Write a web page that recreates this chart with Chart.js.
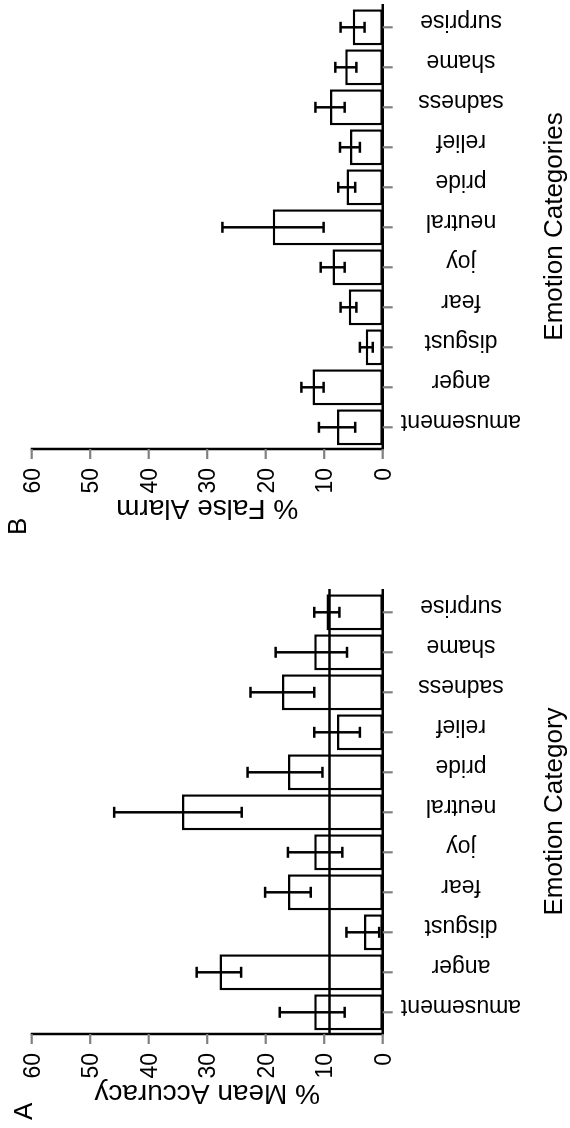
<!DOCTYPE html>
<html>
<head>
<meta charset="utf-8">
<script src="https://cdn.jsdelivr.net/npm/chart.js@4.4.1/dist/chart.umd.min.js"></script>
<style>
  html, body { margin: 0; padding: 0; background: #fff; }
  body { width: 570px; height: 1128px; position: relative; overflow: hidden; }
  #figure {
    position: absolute; left: 0; top: 0;
    width: 1128px; height: 570px;
    transform-origin: 0 0;
    transform: translateY(1128px) rotate(-90deg);
    background: #fff;
  }
  #figure canvas { position: absolute; top: 0; }
</style>
</head>
<body>
<div id="figure">
  <canvas id="chartA" width="585" height="570" style="left:0px"></canvas>
  <canvas id="chartB" width="543" height="570" style="left:585px"></canvas>
</div>
<script>
// ---- Data ----
const categories = ['amusement', 'anger', 'disgust', 'fear', 'joy', 'neutral', 'pride', 'relief', 'sadness', 'shame', 'surprise'];

const accuracyMean = [11.7, 27.9, 3.2, 16.2, 11.7, 34.3, 16.2, 7.8, 17.2, 11.7, 9.6];
const accuracyLow  = [6.5, 24.2, 0.6, 12.3, 6.9, 24.1, 10.3, 3.9, 11.7, 6.1, 7.4];
const accuracyHigh = [17.6, 31.8, 6.2, 20.1, 16.2, 45.9, 23.1, 11.7, 22.6, 18.3, 11.7];

const falseAlarmMean = [7.8, 12.0, 2.9, 5.8, 8.6, 18.8, 6.2, 5.6, 9.0, 6.4, 5.1];
const falseAlarmLow  = [4.7, 10.1, 1.7, 4.5, 6.5, 10.1, 4.7, 3.9, 6.5, 4.5, 3.1];
const falseAlarmHigh = [10.9, 13.9, 3.9, 7.2, 10.6, 27.4, 7.6, 7.3, 11.5, 8.1, 7.2];

const valueTicks = [0, 10, 20, 30, 40, 50, 60];
const chanceLevel = 100 / 11;

const FONT = "'Liberation Sans', Arial, Helvetica, sans-serif";
const LW = 2.5;

function line(ctx, x1, y1, x2, y2) {
  ctx.beginPath(); ctx.moveTo(x1, y1); ctx.lineTo(x2, y2); ctx.stroke();
}

const decorPlugin = {
  id: 'decor',
  afterDraw(chart, args, opts) {
    const ctx = chart.ctx;
    const xs = chart.scales.x, ys = chart.scales.y;
    const area = chart.chartArea;
    const axX = area.left - 1.7;
    const regionR = area.right + 3.3;
    const y0 = ys.getPixelForValue(0);
    ctx.save();
    ctx.lineWidth = LW;
    ctx.strokeStyle = '#000';
    ctx.lineCap = 'butt';
    // zero line across plot region
    line(ctx, axX, y0, regionR, y0);
    // chance line
    if (opts.chance != null) {
      const yc = ys.getPixelForValue(opts.chance);
      line(ctx, axX, yc, regionR, yc);
    }
    // error bars
    for (let i = 0; i < categories.length; i++) {
      const cx = xs.getPixelForValue(i);
      const yl = ys.getPixelForValue(opts.low[i]);
      const yh = ys.getPixelForValue(opts.high[i]);
      line(ctx, cx, yl, cx, yh);
      line(ctx, cx - 5.5, yl, cx + 5.5, yl);
      line(ctx, cx - 5.5, yh, cx + 5.5, yh);
    }
    // value axis
    line(ctx, axX, ys.getPixelForValue(0) + 1, axX, ys.getPixelForValue(60) - 1);
    // value ticks + labels
    ctx.strokeStyle = '#808080';
    ctx.lineWidth = 2.2;
    ctx.fillStyle = '#000';
    ctx.font = '23px ' + FONT;
    ctx.textAlign = 'right';
    ctx.textBaseline = 'alphabetic';
    valueTicks.forEach(v => {
      const y = ys.getPixelForValue(v);
      line(ctx, axX - 10, y, axX, y);
      ctx.fillText(String(v), axX - 19, y + 8.2);
    });
    // category ticks + labels
    for (let i = 0; i < categories.length; i++) {
      const cx = xs.getPixelForValue(i);
      line(ctx, cx, y0, cx, y0 + 10);
      ctx.save();
      ctx.translate(cx + 12, 461);
      ctx.rotate(-Math.PI / 2);
      ctx.textAlign = 'center';
      ctx.textBaseline = 'alphabetic';
      ctx.fillText(categories[i], 0, 0);
      ctx.restore();
    }
    // value-axis title
    ctx.save();
    ctx.font = '28px ' + FONT;
    ctx.translate(43, (ys.getPixelForValue(0) + ys.getPixelForValue(60)) / 2);
    ctx.rotate(-Math.PI / 2);
    ctx.textAlign = 'center';
    ctx.fillText(opts.title, 0, 0);
    ctx.restore();
    // category-axis title
    ctx.font = '26px ' + FONT;
    ctx.textAlign = 'center';
    ctx.fillText(opts.catTitle, (axX + regionR) / 2, 562);
    // panel letter
    ctx.textAlign = 'left';
    ctx.fillText(opts.letter, 8, opts.letterY);
    ctx.restore();
  }
};

function makeChart(id, means, low, high, title, catTitle, letter, letterY, chance, padRight) {
  return new Chart(document.getElementById(id), {
    type: 'bar',
    data: {
      labels: categories,
      datasets: [{
        data: means,
        backgroundColor: '#ffffff',
        borderColor: '#000000',
        borderWidth: LW,
        borderSkipped: false,
        barPercentage: 0.9,
        categoryPercentage: 1.0
      }]
    },
    options: {
      responsive: false,
      animation: false,
      devicePixelRatio: 1,
      events: [],
      layout: { padding: { left: 95.7, right: padRight, top: 31.7, bottom: 187.3 } },
      scales: {
        x: { display: false },
        y: { display: false, min: 0, max: 60 }
      },
      plugins: {
        legend: { display: false },
        tooltip: { enabled: false },
        decor: { low, high, title, catTitle, letter, letterY, chance }
      }
    },
    plugins: [decorPlugin]
  });
}

makeChart('chartA', accuracyMean, accuracyLow, accuracyHigh, '% Mean Accuracy', 'Emotion Category', 'A', 32, chanceLevel, 585 - 535.7);
makeChart('chartB', falseAlarmMean, falseAlarmLow, falseAlarmHigh, '% False Alarm', 'Emotion Categories', 'B', 26, null, 543 - 535.7);
</script>
</body>
</html>
